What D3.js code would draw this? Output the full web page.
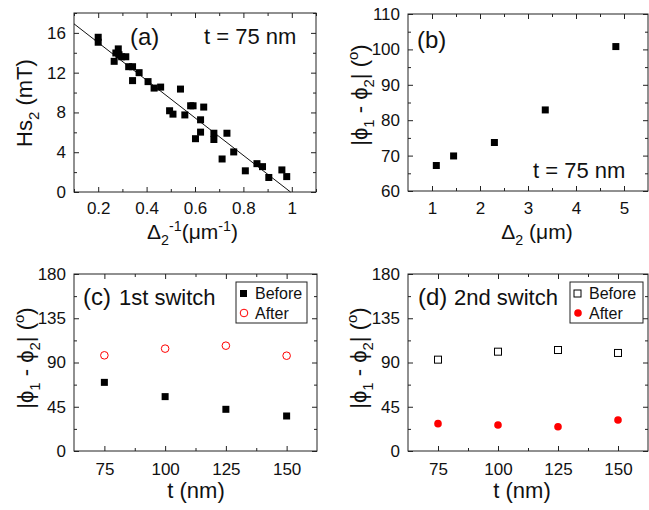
<!DOCTYPE html>
<html>
<head>
<meta charset="utf-8">
<script src="https://cdn.jsdelivr.net/npm/d3@7"></script>
<style>
  body { margin: 0; background: #fff; }
  text { font-family: "Liberation Sans", Arial, sans-serif; fill: #111; }
</style>
</head>
<body>
<script>
// (a) switching field vs inverse spacing, t = 75 nm
var invDelta = [0.200, 0.200, 0.266, 0.273, 0.283, 0.286, 0.297, 0.314, 0.326, 0.342, 0.342, 0.369,
                0.406, 0.431, 0.458, 0.540, 0.495, 0.509, 0.558, 0.582, 0.592, 0.636, 0.623, 0.602,
                0.623, 0.678, 0.678, 0.732, 0.712, 0.760, 0.808, 0.856, 0.879, 0.905, 0.959, 0.979];
var hs2 = [15.56, 15.06, 13.14, 13.98, 14.39, 13.80, 13.60, 13.60, 12.60, 12.60, 11.20, 12.00,
           11.10, 10.45, 10.55, 10.35, 8.17, 7.83, 7.75, 8.67, 8.67, 8.54, 7.26, 5.36,
           6.02, 5.91, 5.28, 5.91, 3.32, 4.03, 2.13, 2.85, 2.55, 1.46, 2.22, 1.55];
var fitSlope = -18.9, fitIntercept = 18.8;
var aXTicks = [0.2, 0.4, 0.6, 0.8, 1], aXLabels = ["0.2", "0.4", "0.6", "0.8", "1"];
var aYTicks = [0, 4, 8, 12, 16];

// (b) angle vs spacing
var delta2 = [1.09, 1.45, 2.30, 3.36, 4.83];
var angleB = [67.2, 69.9, 73.7, 82.9, 100.8];
var bXTicks = [1, 2, 3, 4, 5];
var bYTicks = [60, 70, 80, 90, 100, 110];

// (c), (d) angle vs thickness
var thick = [75, 100, 125, 150];
var sw1Before = [69.8, 55.3, 42.4, 35.6];
var sw1After = [97.3, 104.1, 107.1, 96.9];
var sw2Before = [92.9, 101.0, 102.7, 99.7];
var sw2After = [27.8, 26.4, 24.7, 31.5];
var tTicks = [75, 100, 125, 150];
var angTicks = [0, 45, 90, 135, 180];

var svg = d3.select("body").append("svg").attr("width", 649).attr("height", 510);

function rich(sel, parts, size) {
    // parts: [text, mode] with mode "", "sub" or "sup"
    var off = 0;
    parts.forEach(function (p) {
        var want = p[1] == "sub" ? size * 0.3 : p[1] == "sup" ? -size * 0.4 : 0;
        sel.append("tspan")
            .attr("dy", want - off)
            .style("font-size", (p[1] ? size * 0.68 : size) + "px")
            .text(p[0]);
        off = want;
    });
}

function panel(box, xd, yd, o) {
    var x = d3.scaleLinear().domain(xd).range([box.l, box.r]);
    var y = d3.scaleLinear().domain(yd).range([box.b, box.t]);
    var g = svg.append("g");

    g.append("rect").attr("x", box.l).attr("y", box.t)
        .attr("width", box.r - box.l).attr("height", box.b - box.t)
        .attr("fill", "none").attr("stroke", "#222").attr("stroke-width", 1);

    var fx = o.xLabels ? function (d, i) { return o.xLabels[i]; } : d3.format("d");
    var ax = [
        [d3.axisBottom(x).tickValues(o.xt).tickSize(-5).tickPadding(o.xpad).tickFormat(fx), box.b, 0],
        [d3.axisBottom(x).tickValues(o.xm).tickSize(-3).tickFormat(""), box.b, 0],
        [d3.axisTop(x).tickValues(o.xt).tickSize(-5).tickFormat(""), box.t, 0],
        [d3.axisTop(x).tickValues(o.xm).tickSize(-3).tickFormat(""), box.t, 0],
        [d3.axisLeft(y).tickValues(o.yt).tickSize(-5).tickPadding(8).tickFormat(d3.format("d")), 0, box.l],
        [d3.axisLeft(y).tickValues(o.ym).tickSize(-3).tickFormat(""), 0, box.l],
        [d3.axisRight(y).tickValues(o.yt).tickSize(-5).tickFormat(""), 0, box.r],
        [d3.axisRight(y).tickValues(o.ym).tickSize(-3).tickFormat(""), 0, box.r]
    ];
    ax.forEach(function (a) {
        var ag = g.append("g").attr("transform", "translate(" + a[2] + "," + a[1] + ")").call(a[0]);
        ag.select(".domain").remove();
        ag.selectAll("line").attr("stroke", "#222");
        ag.selectAll("text").style("font-size", "17px").attr("fill", "#111");
    });
    return { g: g, x: x, y: y };
}

function squares(p, xs, ys, filled, s) {
    p.g.selectAll(null).data(xs).enter().append("rect")
        .attr("x", function (d) { return p.x(d) - s / 2; })
        .attr("y", function (d, i) { return p.y(ys[i]) - s / 2; })
        .attr("width", s).attr("height", s)
        .attr("fill", filled ? "#000" : "#fff")
        .attr("stroke", "#000").attr("stroke-width", filled ? 0 : 1);
}

function circles(p, xs, ys, filled, r) {
    p.g.selectAll(null).data(xs).enter().append("circle")
        .attr("cx", function (d) { return p.x(d); })
        .attr("cy", function (d, i) { return p.y(ys[i]); })
        .attr("r", r)
        .attr("fill", filled ? "#f00" : "#fff")
        .attr("stroke", "#f00").attr("stroke-width", filled ? 0 : 1);
}

function label(x, y, parts, size, rot, anchor) {
    var t = svg.append("text")
        .attr("transform", "translate(" + x + "," + y + ")" + (rot ? " rotate(-90)" : ""))
        .attr("text-anchor", anchor || "middle")
        .style("font-size", size + "px");
    rich(t, parts, size);
    return t;
}

var phiLabel = [["|\u03D5", ""], ["1", "sub"], [" - \u03D5", ""], ["2", "sub"], ["| (", ""], ["o", "sup"], [")", ""]];

// ---- (a)
var pa = panel({ l: 74, t: 13, r: 316, b: 192 }, [0.1, 1.1], [0, 18], {
    xt: aXTicks, xLabels: aXLabels, xm: [0.1, 0.3, 0.5, 0.7, 0.9, 1.1], xpad: 10,
    yt: aYTicks, ym: [2, 6, 10, 14, 18]
});
var x0 = 0.1, x1 = -fitIntercept / fitSlope;
pa.g.append("line")
    .attr("x1", pa.x(x0)).attr("y1", pa.y(fitIntercept + fitSlope * x0))
    .attr("x2", pa.x(x1)).attr("y2", pa.y(fitIntercept + fitSlope * x1))
    .attr("stroke", "#111").attr("stroke-width", 1);
squares(pa, invDelta, hs2, true, 7);
label(130, 45, [["(a)", ""]], 24, false, "start");
label(204, 44, [["t = 75 nm", ""]], 22, false, "start");
label(32, 103, [["Hs", ""], ["2", "sub"], [" (mT)", ""]], 22, true);
label(147, 239, [["\u0394", ""], ["2", "sub"], ["-1", "sup"], ["(\u03BCm", ""], ["-1", "sup"], [")", ""]], 21, false, "start");

// ---- (b)
var pb = panel({ l: 408, t: 14, r: 648, b: 191 }, [0.5, 5.5], [60, 110], {
    xt: bXTicks, xm: [1.5, 2.5, 3.5, 4.5], xpad: 11,
    yt: bYTicks, ym: [65, 75, 85, 95, 105]
});
squares(pb, delta2, angleB, true, 7);
label(417, 48, [["(b)", ""]], 24, false, "start");
label(533, 178, [["t = 75 nm", ""]], 22, false, "start");
label(367, 95, phiLabel, 22, true);
label(537, 239, [["\u0394", ""], ["2", "sub"], [" (\u03BCm)", ""]], 21);

// ---- (c)
var pc = panel({ l: 74, t: 274, r: 317, b: 451 }, [62.5, 162.5], [0, 180], {
    xt: tTicks, xm: [87.5, 112.5, 137.5], xpad: 12,
    yt: angTicks, ym: [22.5, 67.5, 112.5, 157.5]
});
squares(pc, thick, sw1Before, true, 7);
circles(pc, thick, sw1After, false, 3.8);
label(83, 305, [["(c)", ""]], 24, false, "start");
label(119, 305, [["1st switch", ""]], 22, false, "start");
label(33, 358, phiLabel, 22, true);
label(196, 498, [["t (nm)", ""]], 22);

// ---- (d)
var pd = panel({ l: 408, t: 274, r: 648, b: 451 }, [62.5, 162.5], [0, 180], {
    xt: tTicks, xm: [87.5, 112.5, 137.5], xpad: 12,
    yt: angTicks, ym: [22.5, 67.5, 112.5, 157.5]
});
squares(pd, thick, sw2Before, false, 7);
circles(pd, thick, sw2After, true, 3.8);
label(418, 305, [["(d)", ""]], 24, false, "start");
label(454, 305, [["2nd switch", ""]], 22, false, "start");
label(366, 358, phiLabel, 22, true);
label(522, 498, [["t (nm)", ""]], 22);

// legends
function legend(x, y, w, h, beforeFilled, afterFilled) {
    var lg = svg.append("g");
    lg.append("rect").attr("x", x).attr("y", y).attr("width", w).attr("height", h)
        .attr("fill", "#fff").attr("stroke", "#222");
    lg.append("rect").attr("x", x + 4).attr("y", y + 8).attr("width", 7).attr("height", 7)
        .attr("fill", beforeFilled ? "#000" : "#fff").attr("stroke", "#000")
        .attr("stroke-width", beforeFilled ? 0 : 1);
    lg.append("circle").attr("cx", x + 8).attr("cy", y + 31).attr("r", 3.8)
        .attr("fill", afterFilled ? "#f00" : "#fff").attr("stroke", "#f00")
        .attr("stroke-width", afterFilled ? 0 : 1);
    lg.append("text").attr("x", x + 19).attr("y", y + 17).style("font-size", "16px").text("Before");
    lg.append("text").attr("x", x + 19).attr("y", y + 37).style("font-size", "16px").text("After");
}
legend(236, 282, 71, 41, true, false);
legend(570, 282, 73, 41, false, true);
</script>
</body>
</html>
